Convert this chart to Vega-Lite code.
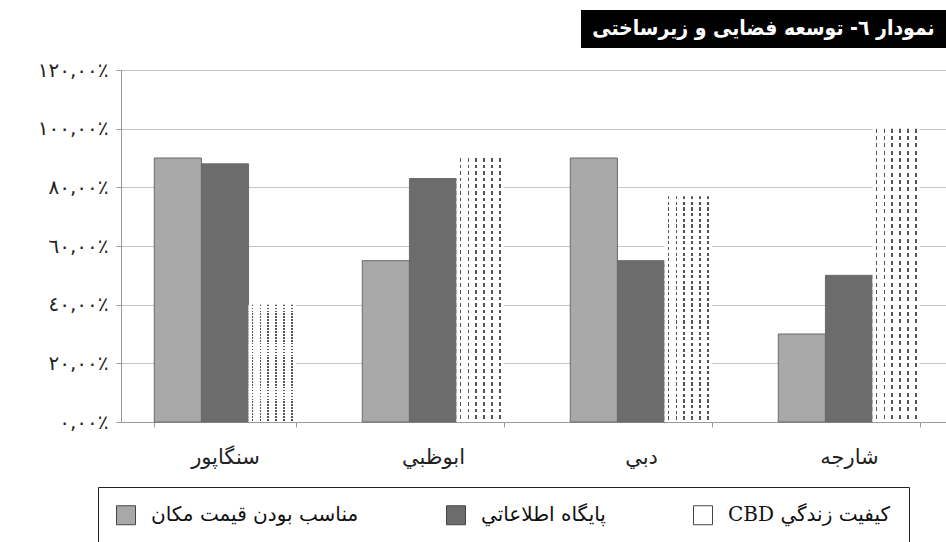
{
  "$schema": "https://vega.github.io/schema/vega-lite/v6.json",
  "background": "white",
  "padding": {"top": 10, "left": 5, "right": 0, "bottom": 0},
  "config": {"view": {"stroke": null}},
  "datasets": {
    "bars": [
      {"city": "سنگاپور", "series": "مناسب بودن قيمت مكان", "value": 90},
      {"city": "سنگاپور", "series": "پايگاه اطلاعاتي", "value": 88},
      {"city": "سنگاپور", "series": "كيفيت زندگي CBD", "value": 40},
      {"city": "ابوظبي", "series": "مناسب بودن قيمت مكان", "value": 55},
      {"city": "ابوظبي", "series": "پايگاه اطلاعاتي", "value": 83},
      {"city": "ابوظبي", "series": "كيفيت زندگي CBD", "value": 90},
      {"city": "دبي", "series": "مناسب بودن قيمت مكان", "value": 90},
      {"city": "دبي", "series": "پايگاه اطلاعاتي", "value": 55},
      {"city": "دبي", "series": "كيفيت زندگي CBD", "value": 77},
      {"city": "شارجه", "series": "مناسب بودن قيمت مكان", "value": 30},
      {"city": "شارجه", "series": "پايگاه اطلاعاتي", "value": 50},
      {"city": "شارجه", "series": "كيفيت زندگي CBD", "value": 100}
    ]
  },
  "spacing": 12,
  "vconcat": [
    {
      "spacing": 0,
      "hconcat": [
        {
          "width": 460,
          "height": 38,
          "data": {"values": [{}]},
          "mark": {"type": "text", "text": " ", "opacity": 0},
          "encoding": {}
        },
        {
          "width": 365,
          "height": 38,
          "view": {"fill": "black", "stroke": null},
          "data": {"values": [{}]},
          "mark": {
            "type": "text",
            "text": "‫نمودار ٦- توسعه فضایی و زیرساختی‬",
            "color": "white",
            "fontSize": 21,
            "fontWeight": "bold",
            "font": "DejaVu Sans Condensed, DejaVu Sans",
            "align": "center",
            "baseline": "middle"
          },
          "encoding": {}
        }
      ]
    },
    {
      "width": 832,
      "height": 352,
      "data": {"name": "bars"},
      "encoding": {
        "x": {
          "field": "city",
          "type": "nominal",
          "sort": ["سنگاپور", "ابوظبي", "دبي", "شارجه"],
          "scale": {"paddingInner": 0.32, "paddingOuter": 0.16},
          "axis": {
            "title": null,
            "labelAngle": 0,
            "tickBand": "extent",
            "ticks": true,
            "tickSize": 5,
            "tickColor": "#999",
            "domainColor": "#999",
            "labelFontSize": 21,
            "labelFont": "DejaVu Sans",
            "labelPadding": 19,
            "labelColor": "#222",
            "grid": false
          }
        },
        "xOffset": {
          "field": "series",
          "type": "nominal",
          "scale": {"domain": ["مناسب بودن قيمت مكان", "پايگاه اطلاعاتي", "كيفيت زندگي CBD"]}
        },
        "y": {
          "field": "value",
          "type": "quantitative",
          "scale": {"domain": [0, 120]},
          "axis": {
            "title": null,
            "values": [0, 20, 40, 60, 80, 100, 120],
            "labelExpr": "replace(replace(replace(replace(replace(replace(replace(format(datum.value,'.2f'),'.',','),regexp('0','g'),'٠'),regexp('1','g'),'١'),regexp('2','g'),'٢'),regexp('4','g'),'٤'),regexp('6','g'),'٦'),regexp('8','g'),'٨') + '٪'",
            "minExtent": 116,
            "gridColor": "#c4c4c4",
            "domainColor": "#999",
            "tickColor": "#999",
            "tickSize": 5,
            "labelFontSize": 20,
            "labelFont": "DejaVu Sans",
            "labelColor": "#222",
            "labelPadding": 8
          }
        }
      },
      "layer": [
        {
          "mark": {"type": "bar", "strokeWidth": 1},
          "encoding": {
            "fill": {
              "field": "series",
              "type": "nominal",
              "condition": {
                "test": "datum.series === 'كيفيت زندگي CBD'",
                "value": {
                  "gradient": "linear",
                  "stops": [
                    {"offset": 0, "color": "#ffffff"},
                    {"offset": 0.067, "color": "#ffffff"},
                    {"offset": 0.067, "color": "#555555"},
                    {"offset": 0.1, "color": "#555555"},
                    {"offset": 0.1, "color": "#ffffff"},
                    {"offset": 0.234, "color": "#ffffff"},
                    {"offset": 0.234, "color": "#555555"},
                    {"offset": 0.266, "color": "#555555"},
                    {"offset": 0.266, "color": "#ffffff"},
                    {"offset": 0.401, "color": "#ffffff"},
                    {"offset": 0.401, "color": "#555555"},
                    {"offset": 0.433, "color": "#555555"},
                    {"offset": 0.433, "color": "#ffffff"},
                    {"offset": 0.567, "color": "#ffffff"},
                    {"offset": 0.567, "color": "#555555"},
                    {"offset": 0.599, "color": "#555555"},
                    {"offset": 0.599, "color": "#ffffff"},
                    {"offset": 0.734, "color": "#ffffff"},
                    {"offset": 0.734, "color": "#555555"},
                    {"offset": 0.766, "color": "#555555"},
                    {"offset": 0.766, "color": "#ffffff"},
                    {"offset": 0.901, "color": "#ffffff"},
                    {"offset": 0.901, "color": "#555555"},
                    {"offset": 0.933, "color": "#555555"},
                    {"offset": 0.933, "color": "#ffffff"},
                    {"offset": 1, "color": "#ffffff"}
                  ]
                }
              },
              "scale": {
                "domain": ["مناسب بودن قيمت مكان", "پايگاه اطلاعاتي", "كيفيت زندگي CBD"],
                "range": ["#a8a8a8", "#6c6c6c", "#ffffff"]
              },
              "legend": {
                "orient": "none",
                "legendX": -23,
                "legendY": 477,
                "direction": "horizontal",
                "title": null,
                "strokeColor": "#222",
                "fillColor": "white",
                "padding": 18,
                "symbolType": "square",
                "symbolSize": 361,
                "symbolStrokeColor": "#444",
                "symbolStrokeWidth": 1,
                "labelFontSize": 20,
                "labelFont": "DejaVu Serif, DejaVu Sans",
                "labelColor": "#111",
                "labelOffset": 15,
                "columnPadding": 85,
                "labelLimit": 320,
                "labelExpr": "'‫' + datum.label + '‬'"
              }
            },
            "stroke": {
              "condition": {"test": "datum.series === 'كيفيت زندگي CBD'", "value": null},
              "value": "#6a6a6a"
            }
          }
        },
        {
          "transform": [{"filter": "datum.series === 'كيفيت زندگي CBD'"}],
          "mark": {
            "type": "bar",
            "fill": {
              "gradient": "linear",
              "x1": 0, "y1": 0, "x2": 0, "y2": 1,
              "stops": [
                {"offset": 0, "color": "rgba(255,255,255,0)"}, {"offset": 0.014, "color": "rgba(255,255,255,0)"}, {"offset": 0.014, "color": "#ffffff"}, {"offset": 0.025, "color": "#ffffff"},
                {"offset": 0.025, "color": "rgba(255,255,255,0)"}, {"offset": 0.039, "color": "rgba(255,255,255,0)"}, {"offset": 0.039, "color": "#ffffff"}, {"offset": 0.05, "color": "#ffffff"},
                {"offset": 0.05, "color": "rgba(255,255,255,0)"}, {"offset": 0.064, "color": "rgba(255,255,255,0)"}, {"offset": 0.064, "color": "#ffffff"}, {"offset": 0.075, "color": "#ffffff"},
                {"offset": 0.075, "color": "rgba(255,255,255,0)"}, {"offset": 0.089, "color": "rgba(255,255,255,0)"}, {"offset": 0.089, "color": "#ffffff"}, {"offset": 0.1, "color": "#ffffff"},
                {"offset": 0.1, "color": "rgba(255,255,255,0)"}, {"offset": 0.114, "color": "rgba(255,255,255,0)"}, {"offset": 0.114, "color": "#ffffff"}, {"offset": 0.125, "color": "#ffffff"},
                {"offset": 0.125, "color": "rgba(255,255,255,0)"}, {"offset": 0.139, "color": "rgba(255,255,255,0)"}, {"offset": 0.139, "color": "#ffffff"}, {"offset": 0.15, "color": "#ffffff"},
                {"offset": 0.15, "color": "rgba(255,255,255,0)"}, {"offset": 0.164, "color": "rgba(255,255,255,0)"}, {"offset": 0.164, "color": "#ffffff"}, {"offset": 0.175, "color": "#ffffff"},
                {"offset": 0.175, "color": "rgba(255,255,255,0)"}, {"offset": 0.189, "color": "rgba(255,255,255,0)"}, {"offset": 0.189, "color": "#ffffff"}, {"offset": 0.2, "color": "#ffffff"},
                {"offset": 0.2, "color": "rgba(255,255,255,0)"}, {"offset": 0.214, "color": "rgba(255,255,255,0)"}, {"offset": 0.214, "color": "#ffffff"}, {"offset": 0.225, "color": "#ffffff"},
                {"offset": 0.225, "color": "rgba(255,255,255,0)"}, {"offset": 0.239, "color": "rgba(255,255,255,0)"}, {"offset": 0.239, "color": "#ffffff"}, {"offset": 0.25, "color": "#ffffff"},
                {"offset": 0.25, "color": "rgba(255,255,255,0)"}, {"offset": 0.264, "color": "rgba(255,255,255,0)"}, {"offset": 0.264, "color": "#ffffff"}, {"offset": 0.275, "color": "#ffffff"},
                {"offset": 0.275, "color": "rgba(255,255,255,0)"}, {"offset": 0.289, "color": "rgba(255,255,255,0)"}, {"offset": 0.289, "color": "#ffffff"}, {"offset": 0.3, "color": "#ffffff"},
                {"offset": 0.3, "color": "rgba(255,255,255,0)"}, {"offset": 0.314, "color": "rgba(255,255,255,0)"}, {"offset": 0.314, "color": "#ffffff"}, {"offset": 0.325, "color": "#ffffff"},
                {"offset": 0.325, "color": "rgba(255,255,255,0)"}, {"offset": 0.339, "color": "rgba(255,255,255,0)"}, {"offset": 0.339, "color": "#ffffff"}, {"offset": 0.35, "color": "#ffffff"},
                {"offset": 0.35, "color": "rgba(255,255,255,0)"}, {"offset": 0.364, "color": "rgba(255,255,255,0)"}, {"offset": 0.364, "color": "#ffffff"}, {"offset": 0.375, "color": "#ffffff"},
                {"offset": 0.375, "color": "rgba(255,255,255,0)"}, {"offset": 0.389, "color": "rgba(255,255,255,0)"}, {"offset": 0.389, "color": "#ffffff"}, {"offset": 0.4, "color": "#ffffff"},
                {"offset": 0.4, "color": "rgba(255,255,255,0)"}, {"offset": 0.414, "color": "rgba(255,255,255,0)"}, {"offset": 0.414, "color": "#ffffff"}, {"offset": 0.425, "color": "#ffffff"},
                {"offset": 0.425, "color": "rgba(255,255,255,0)"}, {"offset": 0.439, "color": "rgba(255,255,255,0)"}, {"offset": 0.439, "color": "#ffffff"}, {"offset": 0.45, "color": "#ffffff"},
                {"offset": 0.45, "color": "rgba(255,255,255,0)"}, {"offset": 0.464, "color": "rgba(255,255,255,0)"}, {"offset": 0.464, "color": "#ffffff"}, {"offset": 0.475, "color": "#ffffff"},
                {"offset": 0.475, "color": "rgba(255,255,255,0)"}, {"offset": 0.489, "color": "rgba(255,255,255,0)"}, {"offset": 0.489, "color": "#ffffff"}, {"offset": 0.5, "color": "#ffffff"},
                {"offset": 0.5, "color": "rgba(255,255,255,0)"}, {"offset": 0.514, "color": "rgba(255,255,255,0)"}, {"offset": 0.514, "color": "#ffffff"}, {"offset": 0.525, "color": "#ffffff"},
                {"offset": 0.525, "color": "rgba(255,255,255,0)"}, {"offset": 0.539, "color": "rgba(255,255,255,0)"}, {"offset": 0.539, "color": "#ffffff"}, {"offset": 0.55, "color": "#ffffff"},
                {"offset": 0.55, "color": "rgba(255,255,255,0)"}, {"offset": 0.564, "color": "rgba(255,255,255,0)"}, {"offset": 0.564, "color": "#ffffff"}, {"offset": 0.575, "color": "#ffffff"},
                {"offset": 0.575, "color": "rgba(255,255,255,0)"}, {"offset": 0.589, "color": "rgba(255,255,255,0)"}, {"offset": 0.589, "color": "#ffffff"}, {"offset": 0.6, "color": "#ffffff"},
                {"offset": 0.6, "color": "rgba(255,255,255,0)"}, {"offset": 0.614, "color": "rgba(255,255,255,0)"}, {"offset": 0.614, "color": "#ffffff"}, {"offset": 0.625, "color": "#ffffff"},
                {"offset": 0.625, "color": "rgba(255,255,255,0)"}, {"offset": 0.639, "color": "rgba(255,255,255,0)"}, {"offset": 0.639, "color": "#ffffff"}, {"offset": 0.65, "color": "#ffffff"},
                {"offset": 0.65, "color": "rgba(255,255,255,0)"}, {"offset": 0.664, "color": "rgba(255,255,255,0)"}, {"offset": 0.664, "color": "#ffffff"}, {"offset": 0.675, "color": "#ffffff"},
                {"offset": 0.675, "color": "rgba(255,255,255,0)"}, {"offset": 0.689, "color": "rgba(255,255,255,0)"}, {"offset": 0.689, "color": "#ffffff"}, {"offset": 0.7, "color": "#ffffff"},
                {"offset": 0.7, "color": "rgba(255,255,255,0)"}, {"offset": 0.714, "color": "rgba(255,255,255,0)"}, {"offset": 0.714, "color": "#ffffff"}, {"offset": 0.725, "color": "#ffffff"},
                {"offset": 0.725, "color": "rgba(255,255,255,0)"}, {"offset": 0.739, "color": "rgba(255,255,255,0)"}, {"offset": 0.739, "color": "#ffffff"}, {"offset": 0.75, "color": "#ffffff"},
                {"offset": 0.75, "color": "rgba(255,255,255,0)"}, {"offset": 0.764, "color": "rgba(255,255,255,0)"}, {"offset": 0.764, "color": "#ffffff"}, {"offset": 0.775, "color": "#ffffff"},
                {"offset": 0.775, "color": "rgba(255,255,255,0)"}, {"offset": 0.789, "color": "rgba(255,255,255,0)"}, {"offset": 0.789, "color": "#ffffff"}, {"offset": 0.8, "color": "#ffffff"},
                {"offset": 0.8, "color": "rgba(255,255,255,0)"}, {"offset": 0.814, "color": "rgba(255,255,255,0)"}, {"offset": 0.814, "color": "#ffffff"}, {"offset": 0.825, "color": "#ffffff"},
                {"offset": 0.825, "color": "rgba(255,255,255,0)"}, {"offset": 0.839, "color": "rgba(255,255,255,0)"}, {"offset": 0.839, "color": "#ffffff"}, {"offset": 0.85, "color": "#ffffff"},
                {"offset": 0.85, "color": "rgba(255,255,255,0)"}, {"offset": 0.864, "color": "rgba(255,255,255,0)"}, {"offset": 0.864, "color": "#ffffff"}, {"offset": 0.875, "color": "#ffffff"},
                {"offset": 0.875, "color": "rgba(255,255,255,0)"}, {"offset": 0.889, "color": "rgba(255,255,255,0)"}, {"offset": 0.889, "color": "#ffffff"}, {"offset": 0.9, "color": "#ffffff"},
                {"offset": 0.9, "color": "rgba(255,255,255,0)"}, {"offset": 0.914, "color": "rgba(255,255,255,0)"}, {"offset": 0.914, "color": "#ffffff"}, {"offset": 0.925, "color": "#ffffff"},
                {"offset": 0.925, "color": "rgba(255,255,255,0)"}, {"offset": 0.939, "color": "rgba(255,255,255,0)"}, {"offset": 0.939, "color": "#ffffff"}, {"offset": 0.95, "color": "#ffffff"},
                {"offset": 0.95, "color": "rgba(255,255,255,0)"}, {"offset": 0.964, "color": "rgba(255,255,255,0)"}, {"offset": 0.964, "color": "#ffffff"}, {"offset": 0.975, "color": "#ffffff"},
                {"offset": 0.975, "color": "rgba(255,255,255,0)"}, {"offset": 0.989, "color": "rgba(255,255,255,0)"}, {"offset": 0.989, "color": "#ffffff"}, {"offset": 1, "color": "#ffffff"}
              ]
            }
          },
          "encoding": {}
        }
      ]
    }
  ]
}
